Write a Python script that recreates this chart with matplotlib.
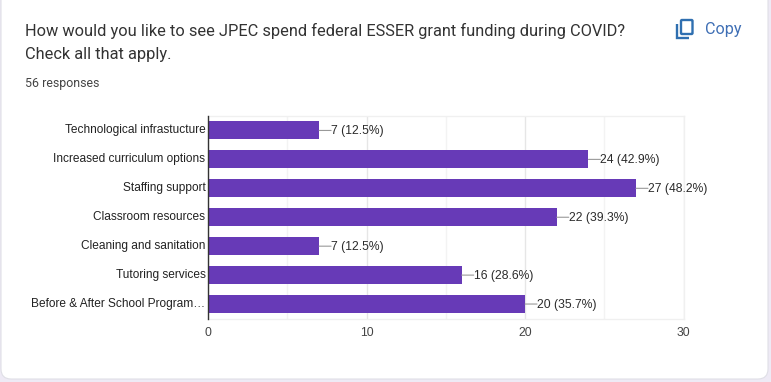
import matplotlib
matplotlib.use("Agg")
import matplotlib.pyplot as plt
from matplotlib.patches import FancyBboxPatch, PathPatch
from matplotlib.path import Path

categories = ["Technological infrastucture", "Increased curriculum options", "Staffing support",
              "Classroom resources", "Cleaning and sanitation", "Tutoring services",
              "Before & After School Program…"]
counts = [7, 24, 27, 22, 7, 16, 20]
percents = ["12.5%", "42.9%", "48.2%", "39.3%", "12.5%", "28.6%", "35.7%"]
major_ticks = [0, 10, 20, 30]
minor_ticks = [5, 15, 25]
title_lines = ["How would you like to see JPEC spend federal ESSER grant funding during COVID?",
               "Check all that apply."]
subtitle = "56 responses"

W, H = 771, 382
plt.rcParams["font.family"] = ["Roboto", "DejaVu Sans"]
fig = plt.figure(figsize=(W / 100, H / 100), dpi=100, facecolor="#eeeaf5")

bg = fig.add_axes([0, 0, 1, 1], zorder=0)
bg.set_xlim(0, W)
bg.set_ylim(H, 0)
bg.axis("off")
bg.add_patch(FancyBboxPatch((1, -20), W - 4, H - 3 + 20, boxstyle="round,pad=0,rounding_size=10",
                            fc="white", ec="#dfdfe6", lw=0.8))

bg.text(25, 30.5, title_lines[0], fontsize=11.8, color="#333333", va="center", ha="left")
bg.text(25, 54.5, title_lines[1], fontsize=11.8, color="#333333", va="center", ha="left")
bg.text(25, 83, subtitle, fontsize=8.9, color="#444444", va="center", ha="left")
bg.text(705, 29.5, "Copy", fontsize=11.6, color="#3f6fb5", va="center", ha="left")

# Copy icon
blue = "#2f6fb0"
bg.add_patch(FancyBboxPatch((681, 20), 11.5, 14, boxstyle="round,pad=0,rounding_size=1",
                            fc="none", ec=blue, lw=1.7))
bg.add_patch(PathPatch(Path([(677, 24), (677, 38), (689, 38)]), fc="none", ec=blue, lw=1.7))

ax = fig.add_axes([208.2 / W, 1 - 318.5 / H, 475.3 / W, 202.5 / H], zorder=1)
ax.patch.set_alpha(0)
positions = list(range(len(categories)))
ax.barh(positions, counts, height=18 / 29, color="#673ab7", zorder=3)
ax.set_xlim(0, 30)
ax.set_ylim(6.5, -0.5)

ax.set_xticks(major_ticks)
ax.set_xticks(minor_ticks, minor=True)
ax.grid(True, axis="x", which="major", color="#e6e6e6", lw=1, zorder=0)
ax.grid(True, axis="x", which="minor", color="#f3f3f3", lw=1, zorder=0)
ax.set_yticks(positions)
ax.set_yticklabels(categories, fontsize=8.6, color="#222222", family="Liberation Sans", va="center")
ax.tick_params(axis="y", length=0, pad=2)
ax.tick_params(axis="x", which="both", length=0, pad=6, labelsize=8.7, labelcolor="#444444")
for lab in ax.get_xticklabels():
    lab.set_family("Liberation Sans")

for s in ["top", "right", "bottom"]:
    ax.spines[s].set_color("#f0f0f0")
    ax.spines[s].set_linewidth(1)
ax.spines["left"].set_color("#333333")
ax.spines["left"].set_linewidth(1)
ax.spines["left"].set_zorder(5)

for y, c, p in zip(positions, counts, percents):
    ax.annotate("", xy=(c, y), xytext=(12, 0), textcoords="offset pixels",
                arrowprops=dict(arrowstyle="-", color="#999999", lw=0.8, shrinkA=0, shrinkB=0),
                annotation_clip=False, zorder=4)
    ax.annotate(f"{c} ({p})", xy=(c, y), xytext=(12, -0.7), textcoords="offset pixels",
                fontsize=8.7, color="#2b2b2b", va="center", ha="left", family="Liberation Sans",
                annotation_clip=False, zorder=4)

fig.savefig("out.png", dpi=100, facecolor=fig.get_facecolor())
